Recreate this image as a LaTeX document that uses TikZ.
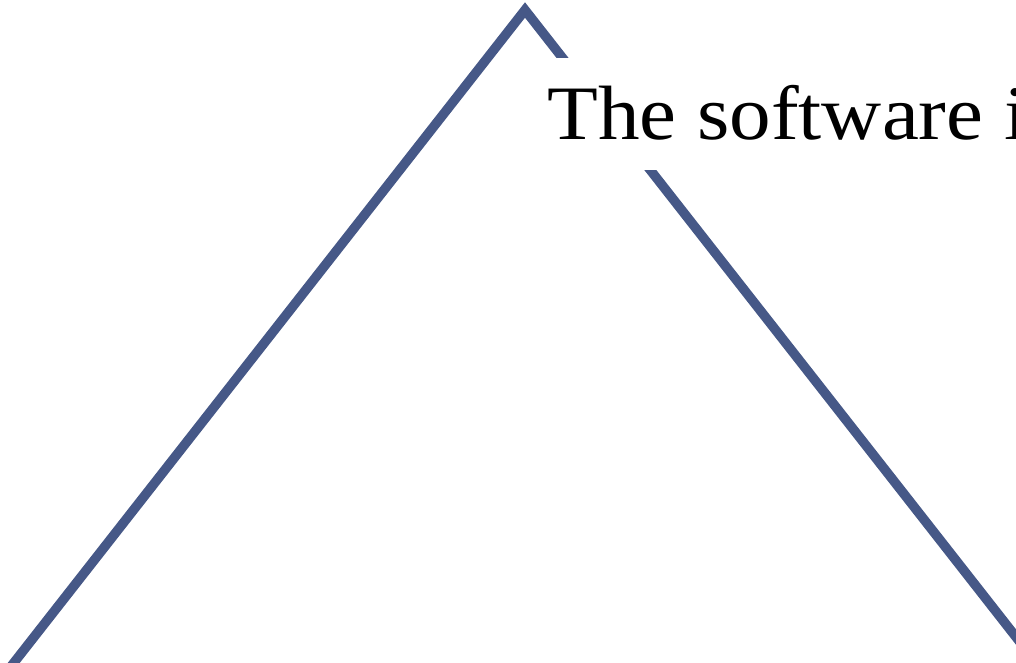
\documentclass[tikz,border=0pt]{standalone}
\usepackage{fontspec}
\setmainfont[FakeStretch=1.08]{Liberation Serif}
\definecolor{edgeblue}{RGB}{70,88,135}
\tikzset{
  edge/.style={draw=edgeblue, line width=9.5pt, line join=miter},
  label/.style={fill=white, anchor=base west, inner xsep=10pt, inner ysep=10pt,
    text height=72pt, text depth=20pt, font=\fontsize{77}{94}\selectfont}
}
\begin{document}
\begin{tikzpicture}[x=1pt,y=-1pt]
\useasboundingbox (0,0) rectangle (1016,663);
\clip (0,0) rectangle (1016,663);
\coordinate (apex) at (525,10);
\coordinate (bl) at (-2,683);
\coordinate (br) at (1052,683);
\draw[edge] (bl) -- (apex) -- (br);
\node[label] (txt) at (537,140) {The software is};
\end{tikzpicture}
\end{document}
